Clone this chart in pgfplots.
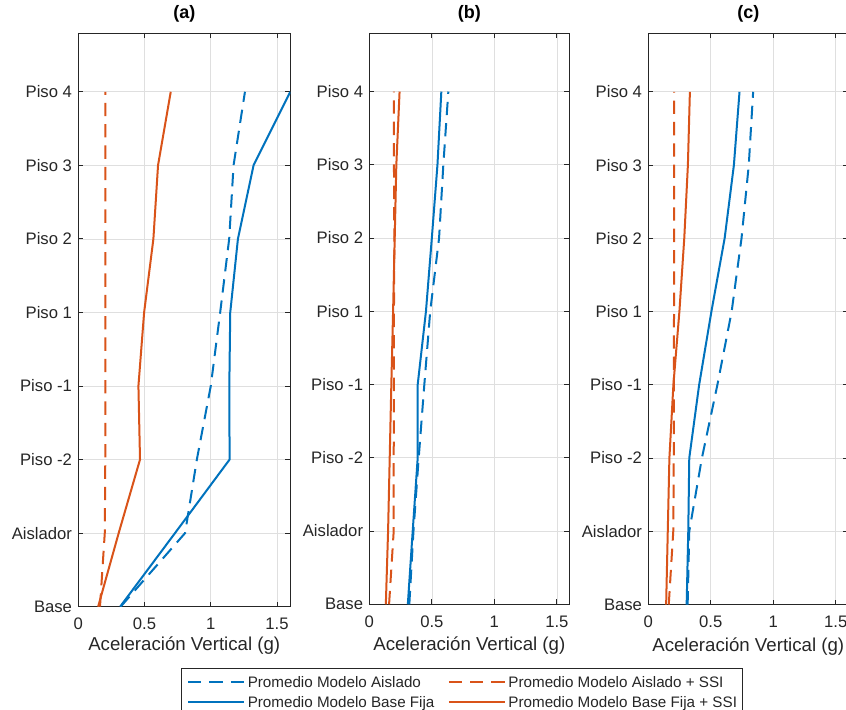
\documentclass[border=0pt]{standalone}
\usepackage{pgfplots}
\pgfplotsset{compat=1.18}
\usepackage{pgfplotstable}
\usepackage{fontspec}
\setmainfont{Liberation Sans}
\definecolor{mblue}{rgb}{0,0.447,0.741}
\definecolor{morange}{rgb}{0.850,0.325,0.098}
\definecolor{axcol}{rgb}{0.15,0.15,0.15}
\definecolor{gridcol}{rgb}{0.875,0.875,0.875}

% y: 0 Base, 1 Aislador, 2 Piso -2, 3 Piso -1, 4 Piso 1, 5 Piso 2, 6 Piso 3, 7 Piso 4
% ad = Aislado, bs = Base Fija, od = Aislado + SSI, os = Base Fija + SSI
\pgfplotstableread{
y ad bs od os
0 0.320 0.316 0.164 0.150
1 0.806 0.730 0.200 0.305
2 0.895 1.142 0.204 0.466
3 1.000 1.140 0.204 0.454
4 1.071 1.147 0.204 0.497
5 1.139 1.205 0.204 0.567
6 1.172 1.323 0.204 0.602
7 1.258 1.600 0.204 0.698
}\dataA

\pgfplotstableread{
y ad bs od os
0 0.320 0.308 0.158 0.132
1 0.353 0.347 0.195 0.150
2 0.395 0.387 0.195 0.163
3 0.440 0.387 0.197 0.176
4 0.487 0.453 0.197 0.190
5 0.558 0.500 0.200 0.203
6 0.592 0.545 0.197 0.216
7 0.632 0.576 0.197 0.242
}\dataB

\pgfplotstableread{
y ad bs od os
0 0.315 0.307 0.164 0.143
1 0.328 0.320 0.200 0.156
2 0.429 0.328 0.204 0.169
3 0.553 0.407 0.204 0.201
4 0.667 0.505 0.206 0.249
5 0.746 0.611 0.206 0.288
6 0.804 0.685 0.206 0.317
7 0.839 0.730 0.206 0.333
}\dataC

\pgfplotsset{
 panel/.style={
  scale only axis, anchor=south west,
  xmin=0, xmax=1.6, ymin=0, ymax=7.8,
  xtick={0,0.5,1,1.5}, xticklabels={0,0.5,1,1.5},
  ytick={0,1,2,3,4,5,6,7},
  yticklabels={Base,Aislador,Piso -2,Piso -1,Piso 1,Piso 2,Piso 3,Piso 4},
  grid=major, major grid style={draw=gridcol, line width=0.5pt},
  tick align=inside, major tick length=3.75pt,
  axis line style={draw=axcol, line width=0.6pt},
  every tick/.style={draw=axcol, line width=0.6pt},
  every tick label/.append style={font=\fontsize{12.5}{15}\selectfont, text=axcol},
  yticklabel style={anchor=east, inner sep=0pt, xshift=-4.5pt},
  xticklabel style={anchor=north, inner sep=0pt, yshift=-8.3pt},
  xlabel={Aceleración Vertical (g)},
  xlabel style={font=\fontsize{14}{16.8}\selectfont, text=axcol, at={(axis description cs:0.5,0)}, anchor=base, inner sep=0pt},
  title style={font=\fontsize{13.5}{16}\selectfont\bfseries, text=black, at={(axis description cs:0.5,1)}, anchor=base, inner sep=0pt, yshift=5pt},
 },
 dline/.style={line width=1.5pt, dash pattern=on 10pt off 6pt},
 sline/.style={line width=1.5pt},
}

\begin{document}
\begin{tikzpicture}
% panel (a)
\begin{axis}[panel, at={(58.7pt,77.5pt)}, width=159pt, height=430.3pt,
  title={(a)}, xlabel style={yshift=-33.2pt}]
\addplot[mblue, dline] table[x=ad, y=y] {\dataA};
\addplot[morange, dline] table[x=od, y=y] {\dataA};
\addplot[mblue, sline] table[x=bs, y=y] {\dataA};
\addplot[morange, sline] table[x=os, y=y] {\dataA};
\end{axis}
% panel (b)
\begin{axis}[panel, at={(277pt,79.3pt)}, width=150pt, height=428.5pt,
  title={(b)}, xlabel style={yshift=-35pt},
  legend columns=2,
  legend cell align=left,
  legend image code/.code={\draw[#1] (0pt,0pt) -- (42pt,0pt);},
  legend style={at={(axis description cs:-0.9415,-0.112)}, anchor=north west,
    draw=axcol, line width=0.5pt, font=\fontsize{11.4}{13.7}\selectfont, text=axcol,
    inner xsep=4.3pt, inner ysep=5.8pt, row sep=6.8pt,
    nodes={inner xsep=0pt, inner ysep=0pt, text height=8.2pt, text depth=0pt},
    /tikz/every odd column/.append style={column sep=2pt},
    /tikz/every even column/.append style={column sep=10pt}}]
\addplot[mblue, dline] table[x=ad, y=y] {\dataB};
\addlegendentry{Promedio Modelo Aislado}
\addplot[morange, dline] table[x=od, y=y] {\dataB};
\addlegendentry{Promedio Modelo Aislado + SSI}
\addplot[mblue, sline] table[x=bs, y=y] {\dataB};
\addlegendentry{Promedio Modelo Base Fija}
\addplot[morange, sline] table[x=os, y=y] {\dataB};
\addlegendentry{Promedio Modelo Base Fija + SSI}
\end{axis}
% panel (c)
\begin{axis}[panel, at={(486.2pt,79.1pt)}, width=150pt, height=428.5pt,
  title={(c)}, xlabel style={yshift=-35pt}]
\addplot[mblue, dline] table[x=ad, y=y] {\dataC};
\addplot[morange, dline] table[x=od, y=y] {\dataC};
\addplot[mblue, sline] table[x=bs, y=y] {\dataC};
\addplot[morange, sline] table[x=os, y=y] {\dataC};
\end{axis}
\pgfresetboundingbox
\path (0pt,0pt) rectangle (634.5pt,532.5pt);
\end{tikzpicture}
\end{document}
